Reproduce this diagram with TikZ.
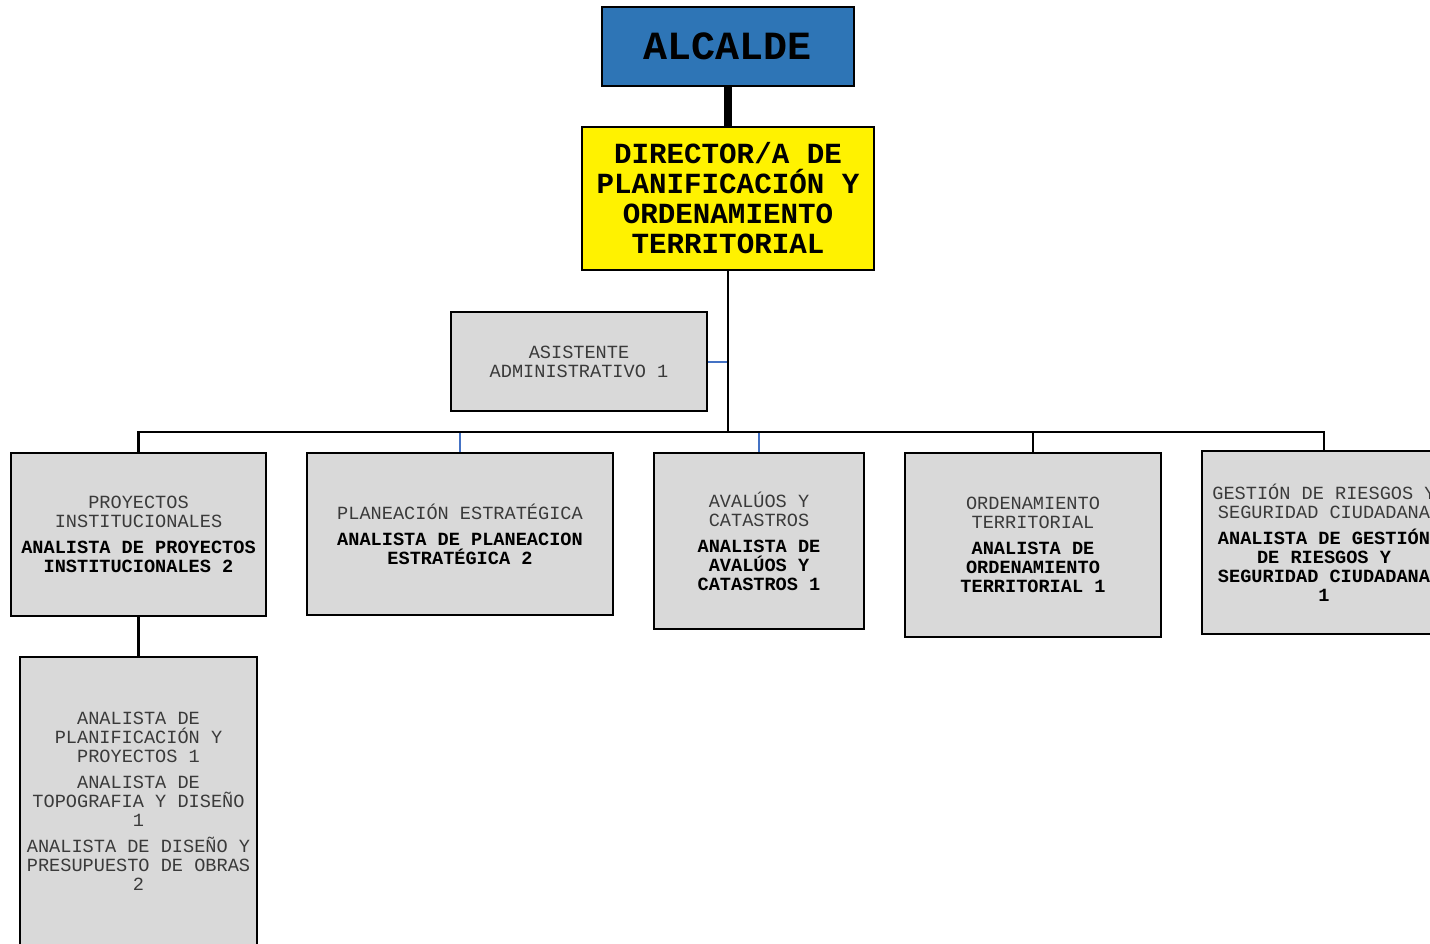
\documentclass[tikz,border=0pt]{standalone}
\usepackage{fontspec}
\setmainfont{Liberation Mono}
\usetikzlibrary{calc}

\definecolor{azulAlc}{HTML}{2E75B6}
\definecolor{grisCaja}{HTML}{D9D9D9}
\definecolor{azulLinea}{HTML}{4472C4}
\definecolor{textoGris}{HTML}{3A3A3A}
\newcommand{\cargo}[1]{{\bfseries\color{black}#1}}

\begin{document}
\begin{tikzpicture}[x=0.5pt,y=-0.5pt,
	caja/.style={draw,line width=1.25pt,fill=grisCaja,align=center,inner sep=0pt,
		text=textoGris,font=\fontsize{9.3}{9.5}\selectfont},
	linea/.style={line width=1.25pt},
	lineaAzul/.style={line width=1pt,azulLinea}]
	\useasboundingbox (0,0) rectangle (1430,943);
	\coordinate (bus) at (728,432);
	
	\node[draw,line width=1.25pt,fill=azulAlc,minimum width=126pt,minimum height=39.5pt,
		font=\fontsize{20}{20}\selectfont\bfseries] (alc) at (728,46.5) {ALCALDE};
	\node[draw,line width=1.25pt,fill=yellow,minimum width=146pt,minimum height=71.5pt,align=center,
		font=\fontsize{14.6}{15}\selectfont\bfseries] (dir) at (728,198.5)
		{DIRECTOR/A DE\\PLANIFICACIÓN Y\\ORDENAMIENTO\\TERRITORIAL};
	\node[caja,minimum width=128pt,minimum height=49.5pt] (asis) at (579,361.5)
		{ASISTENTE\\ADMINISTRATIVO 1};
	
	\node[caja,minimum width=127.5pt,minimum height=81.5pt] (proy) at (138.5,534.5)
		{PROYECTOS\\INSTITUCIONALES\\[3.5pt]\cargo{ANALISTA DE PROYECTOS}\\\cargo{INSTITUCIONALES 2}};
	\node[caja,minimum width=153pt,minimum height=81pt] (plan) at (460,534)
		{PLANEACIÓN ESTRATÉGICA\\[3.5pt]\cargo{ANALISTA DE PLANEACION}\\\cargo{ESTRATÉGICA 2}};
	\node[caja,minimum width=105pt,minimum height=88pt] (aval) at (759,541)
		{AVALÚOS Y\\CATASTROS\\[3.5pt]\cargo{ANALISTA DE}\\\cargo{AVALÚOS Y}\\\cargo{CATASTROS 1}};
	\node[caja,minimum width=128pt,minimum height=92pt] (orden) at (1033,545)
		{ORDENAMIENTO\\TERRITORIAL\\[3.5pt]\cargo{ANALISTA DE}\\\cargo{ORDENAMIENTO}\\\cargo{TERRITORIAL 1}};
	\node[caja,minimum width=122pt,minimum height=91.5pt] (gest) at (1324,542.5)
		{GESTIÓN DE RIESGOS Y\\SEGURIDAD CIUDADANA\\[3.5pt]\cargo{ANALISTA DE GESTIÓN}\\\cargo{DE RIESGOS Y}\\\cargo{SEGURIDAD CIUDADANA}\\\cargo{1}};
	\node[caja,minimum width=118.5pt,minimum height=144pt] (sub) at (138.5,801)
		{ANALISTA DE\\PLANIFICACIÓN Y\\PROYECTOS 1\\[3.5pt]ANALISTA DE\\TOPOGRAFIA Y DISEÑO\\1\\[3.5pt]ANALISTA DE DISEÑO Y\\PRESUPUESTO DE OBRAS\\2};
	
	% conectores
	\draw[line width=4pt] (alc.south) -- (dir.north);
	\draw[lineaAzul] (asis.east) -- (asis.east -| bus);
	\draw[lineaAzul] (plan.north) -- (plan.north |- bus);
	\draw[lineaAzul] (aval.north) -- (aval.north |- bus);
	\draw[linea] (dir.south) -- (bus);
	\draw[linea] (proy.north) |- (bus) -| (gest.north);
	\draw[linea] (orden.north) -- (orden.north |- bus);
	\draw[linea] (proy.south) -- (sub.north);
\end{tikzpicture}
\end{document}
